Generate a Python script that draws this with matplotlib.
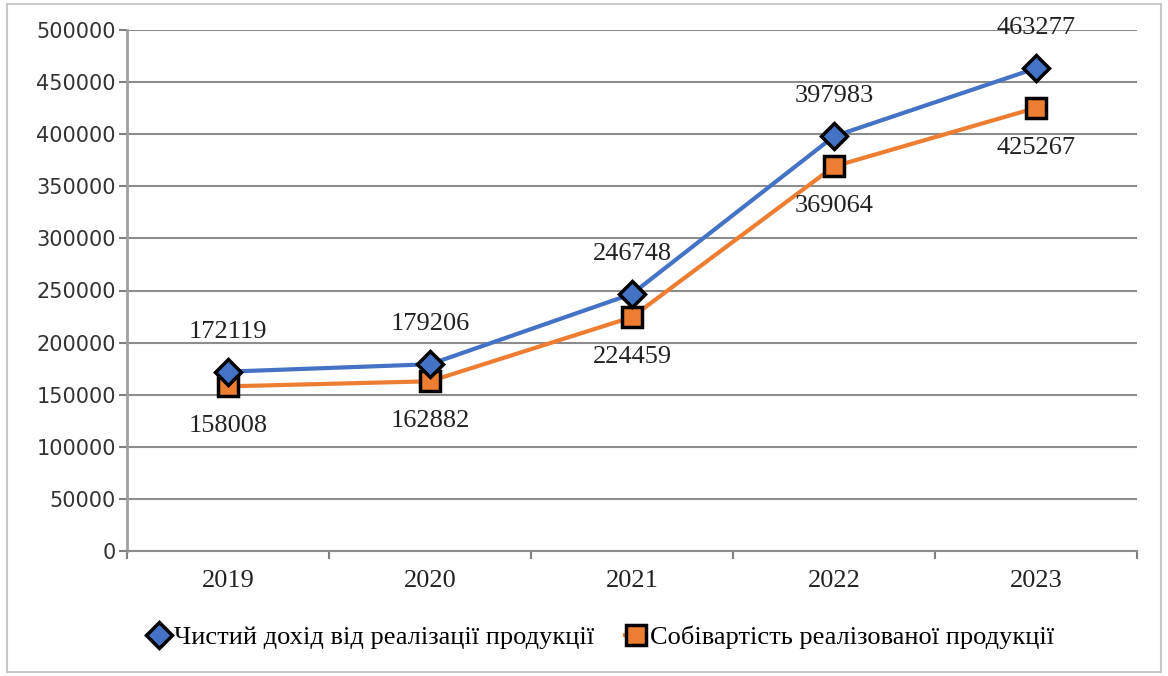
import matplotlib
matplotlib.use("Agg")
import matplotlib.pyplot as plt
from matplotlib.patches import Rectangle

years = ["2019", "2020", "2021", "2022", "2023"]
income = [172119, 179206, 246748, 397983, 463277]
cost = [158008, 162882, 224459, 369064, 425267]
income_name = "Чистий дохід від реалізації продукції"
cost_name = "Собівартість реалізованої продукції"

BLUE = "#4472C4"
ORANGE = "#ED7D31"
SERIF = "Liberation Serif"

fig = plt.figure(figsize=(11.68, 6.76), dpi=100)
ax = fig.add_axes([127 / 1168, 1 - 551 / 676, 1010 / 1168, 521 / 676])

# outer chart border
fig.patches.append(Rectangle((7 / 1168, 1 - 672 / 676), 1154 / 1168, 668 / 676,
                             transform=fig.transFigure, fill=False,
                             edgecolor="#c8c8c8", lw=1.5))

x = list(range(len(years)))
ax.plot(x, income, color=BLUE, lw=3, marker="D", ms=13, mfc=BLUE, mec="black",
        mew=2.5, label=income_name, zorder=4)
ax.plot(x, cost, color=ORANGE, lw=3, marker="s", ms=15, mfc=ORANGE, mec="black",
        mew=2.5, label=cost_name, zorder=3)

for xi, v in zip(x, income):
    ax.annotate(str(v), (xi, v), xytext=(0, 40), textcoords="offset pixels",
                ha="center", va="center", family=SERIF, fontsize=19, color="#222222")
for xi, v in zip(x, cost):
    ax.annotate(str(v), (xi, v), xytext=(0, -40), textcoords="offset pixels",
                ha="center", va="center", family=SERIF, fontsize=19, color="#222222")

ax.set_xlim(-0.5, len(years) - 0.5)
ax.set_ylim(0, 500000)
ax.set_yticks(range(0, 500001, 50000))
ax.tick_params(axis="y", labelsize=15, labelcolor="#333333", color="#808080",
               length=6, width=1.5, pad=2)

# category labels centred, tick marks on category boundaries
ax.set_xticks(x)
ax.set_xticklabels(years, family=SERIF, fontsize=19, color="#222222")
ax.set_xticks([i - 0.5 for i in range(len(years) + 1)], minor=True)
ax.tick_params(axis="x", which="major", length=0, pad=14)
ax.tick_params(axis="x", which="minor", length=6, width=1.5, color="#808080")

ax.grid(axis="y", color="#8c8c8c", lw=1.5)
ax.set_axisbelow(True)
for side in ["top", "right"]:
    ax.spines[side].set_visible(False)
ax.spines["left"].set_color("#a0a0a0")
ax.spines["left"].set_linewidth(2)
ax.spines["bottom"].set_color("#8c8c8c")
ax.spines["bottom"].set_linewidth(1.5)

fig.legend(loc="center", bbox_to_anchor=(0.515, 1 - 637 / 676), ncol=2,
           frameon=False, prop={"family": SERIF, "size": 19},
           handlelength=0.8, handletextpad=0.15, columnspacing=1.2)

fig.savefig("out.png", dpi=100)
